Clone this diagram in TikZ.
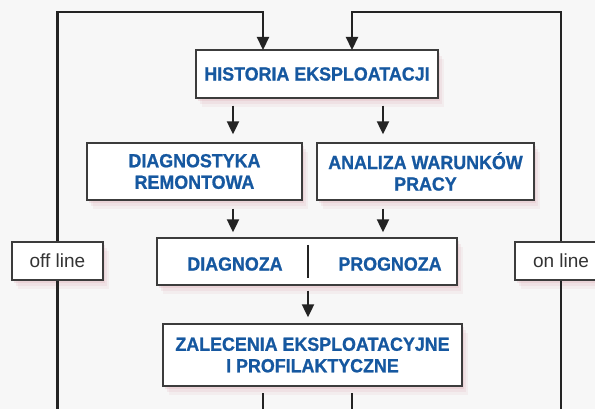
\documentclass[tikz,border=0pt]{standalone}
\usepackage{fontspec}
\setmainfont{Liberation Sans}
\newfontfamily\heavyfont{Liberation Sans Bold}[FakeBold=0.9,FakeStretch=0.94]
\usetikzlibrary{arrows.meta,shadows,backgrounds}
\definecolor{txtblue}{RGB}{22,88,160}
\definecolor{boxline}{RGB}{60,60,60}
\definecolor{conline}{RGB}{35,35,35}
\definecolor{shadowpink}{RGB}{225,180,188}
\begin{document}
\begin{tikzpicture}[x=1pt,y=-1pt,
  softshadow/.style={
    general shadow={shadow xshift=6pt, shadow yshift=-9pt, fill=shadowpink, opacity=0.15},
    general shadow={shadow xshift=4pt, shadow yshift=-6pt, fill=shadowpink, opacity=0.2},
    general shadow={shadow xshift=2pt, shadow yshift=-3pt, fill=shadowpink, opacity=0.3}},
  blocktext/.style={text=txtblue, font=\fontsize{19}{21.5}\heavyfont},
  blockbox/.style={draw=boxline, line width=1.4pt, fill=white, softshadow,
    inner sep=0pt, align=center, blocktext},
  modebox/.style={draw=boxline, line width=1.4pt, fill=white, softshadow,
    inner sep=0pt, text=black!80, font=\fontsize{19}{22}\selectfont},
  conn/.style={draw=conline, line width=2.2pt},
  arr/.style={conn, -{Triangle[length=13pt,width=12pt]}}
]
\useasboundingbox (0,0) rectangle (595,409);
\fill[white!97!black] (0,0) rectangle (595,409);

% nodes
\node[blockbox, minimum width=242pt, minimum height=48pt] (hist) at (317,74) {HISTORIA EKSPLOATACJI};
\node[blockbox, minimum width=215pt, minimum height=57pt] (diag) at (194.5,171.5) {DIAGNOSTYKA\\REMONTOWA};
\node[blockbox, minimum width=217pt, minimum height=57pt] (anal) at (425.5,171.5) {ANALIZA WARUNKÓW\\PRACY};
\node[blockbox, minimum width=300pt, minimum height=47pt] (dp) at (307,261.5) {};
\node[blocktext] (dtxt) at (235,264) {DIAGNOZA};
\node[blocktext] (ptxt) at (390,264) {PROGNOZA};
\node[blockbox, minimum width=299pt, minimum height=62pt] (zal) at (312.5,355) {ZALECENIA EKSPLOATACYJNE\\I PROFILAKTYCZNE};
\node[modebox, minimum width=91pt, minimum height=38pt] (off) at (57.5,261) {off line};
\node[modebox, minimum width=92pt, minimum height=38pt] (on) at (561,261) {on line};

% coordinates
\coordinate (tl) at (57.5,12);
\coordinate (tr) at (561,12);
\coordinate (bl) at (57.5,412);
\coordinate (br) at (561,412);
\coordinate (hin1) at (263,50);
\coordinate (hin2) at (352,50);
\coordinate (zo1) at (263,393);
\coordinate (zo1b) at (263,412);
\coordinate (zo2) at (352,393);
\coordinate (zo2b) at (352,412);
\coordinate (dv1) at (308,245);
\coordinate (dv2) at (308,278);

% connectors
\draw[arr] (off.north) -- (tl) -| (hin1);
\draw[arr] (on.north) -- (tr) -| (hin2);
\draw[conn] (off.south) -- (bl);
\draw[conn] (on.south) -- (br);
\draw[arr, shorten <=7pt, shorten >=8pt] (hist.south -| 233,0) -- (diag.north -| 233,0);
\draw[arr, shorten <=7pt, shorten >=8pt] (hist.south -| 383,0) -- (anal.north -| 383,0);
\draw[arr, shorten <=8pt, shorten >=5pt] (diag.south -| 233,0) -- (dp.north -| 233,0);
\draw[arr, shorten <=8pt, shorten >=5pt] (anal.south -| 383,0) -- (dp.north -| 383,0);
\draw[arr, shorten <=5pt, shorten >=6pt] (dp.south -| 308,0) -- (zal.north -| 308,0);
\draw[conn] (dv1) -- (dv2);
\draw[conn] (zo1) -- (zo1b);
\draw[conn] (zo2) -- (zo2b);
\end{tikzpicture}
\end{document}
